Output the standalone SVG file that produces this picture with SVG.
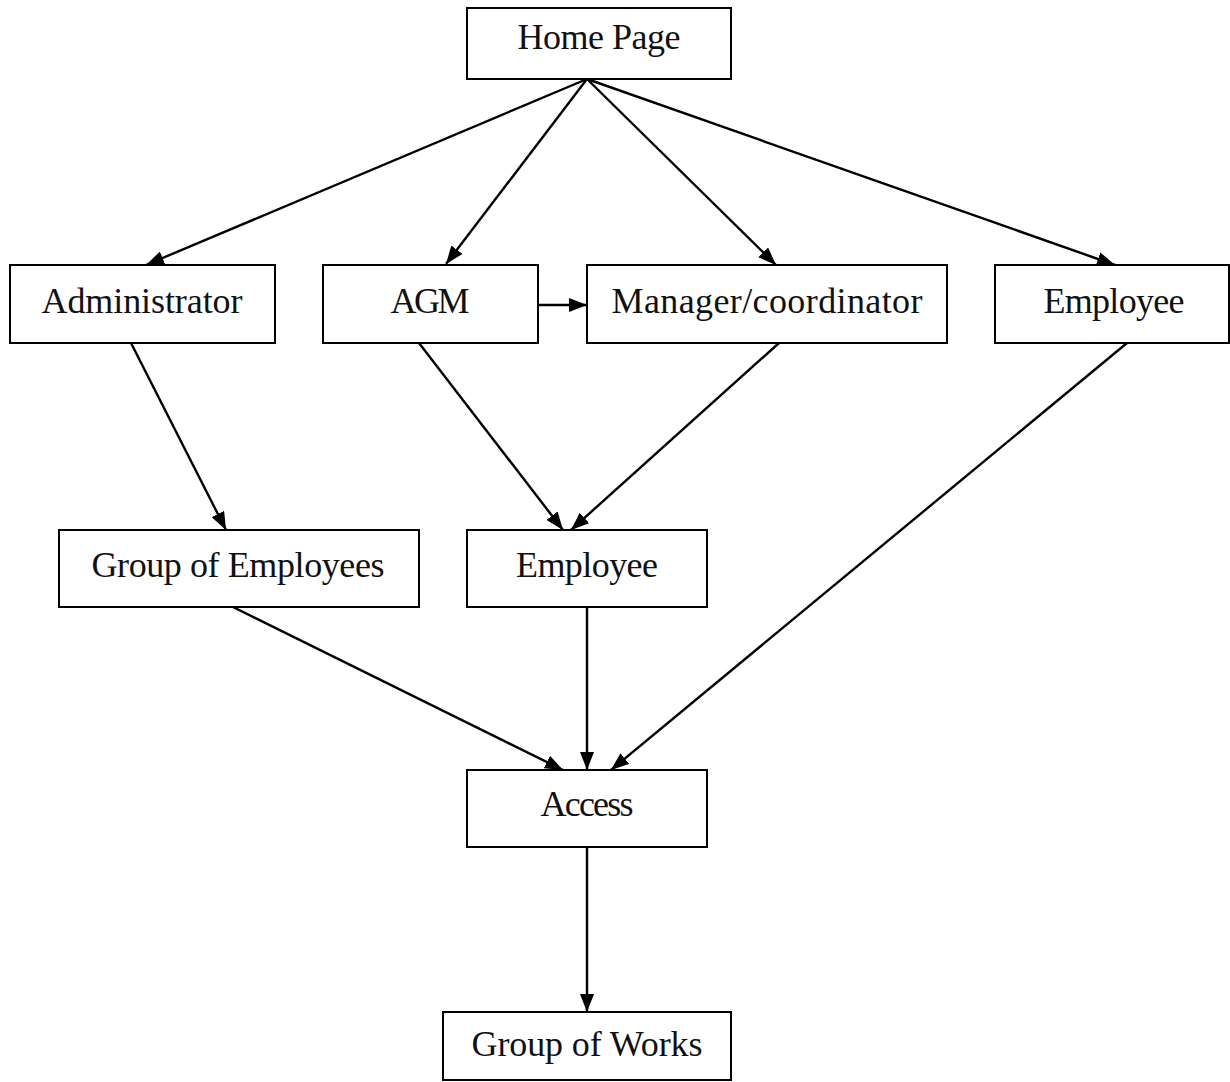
<svg xmlns="http://www.w3.org/2000/svg" width="1230" height="1082" viewBox="0 0 1230 1082">
<style>
.box{fill:#fff;stroke:#000;stroke-width:2}
.lbl{font-family:"Liberation Serif","DejaVu Serif",serif;font-size:36px;fill:#111;text-anchor:middle}
.edge{stroke:#000;stroke-width:2.4;fill:none;marker-end:url(#ah)}
</style>
<defs>
<marker id="ah" viewBox="0 0 18 14" refX="18" refY="7" markerWidth="18" markerHeight="14" markerUnits="userSpaceOnUse" orient="auto">
<path d="M0,0 L18,7 L0,14 Z" fill="#000"/>
</marker>
</defs>
<rect width="1230" height="1082" fill="#fff"/>
<g id="connectors">
<line class="edge" x1="587" y1="79" x2="146" y2="265"/>
<line class="edge" x1="587" y1="79" x2="446" y2="264"/>
<line class="edge" x1="587" y1="79" x2="776" y2="265"/>
<line class="edge" x1="587" y1="79" x2="1115" y2="265"/>
<line class="edge" x1="538" y1="305" x2="587" y2="305"/>
<line class="edge" x1="131" y1="343" x2="226" y2="530"/>
<line class="edge" x1="419" y1="343" x2="563" y2="530"/>
<line class="edge" x1="779" y1="343" x2="571" y2="530"/>
<line class="edge" x1="233" y1="607" x2="563" y2="770"/>
<line class="edge" x1="587" y1="607" x2="587" y2="770"/>
<line class="edge" x1="1127" y1="343" x2="611" y2="770"/>
<line class="edge" x1="587" y1="847" x2="587" y2="1012"/>
</g>
<g id="home"><rect class="box" x="467" y="8" width="264" height="71"/><text class="lbl" x="599" y="49" textLength="163">Home Page</text></g>
<g id="administrator"><rect class="box" x="10" y="265" width="265" height="78"/><text class="lbl" x="142" y="313" textLength="201">Administrator</text></g>
<g id="agm"><rect class="box" x="323" y="265" width="215" height="78"/><text class="lbl" x="430" y="313" textLength="79">AGM</text></g>
<g id="manager"><rect class="box" x="587" y="265" width="360" height="78"/><text class="lbl" x="767" y="313" textLength="311">Manager/coordinator</text></g>
<g id="employee-top"><rect class="box" x="995" y="265" width="234" height="78"/><text class="lbl" x="1114" y="313" textLength="141">Employee</text></g>
<g id="group-employees"><rect class="box" x="59" y="530" width="360" height="77"/><text class="lbl" x="238" y="577" textLength="293">Group of Employees</text></g>
<g id="employee"><rect class="box" x="467" y="530" width="240" height="77"/><text class="lbl" x="587" y="577" textLength="142">Employee</text></g>
<g id="access"><rect class="box" x="467" y="770" width="240" height="77"/><text class="lbl" x="587" y="816" textLength="93">Access</text></g>
<g id="group-works"><rect class="box" x="443" y="1012" width="288" height="68"/><text class="lbl" x="587" y="1056" textLength="231">Group of Works</text></g>
</svg>
